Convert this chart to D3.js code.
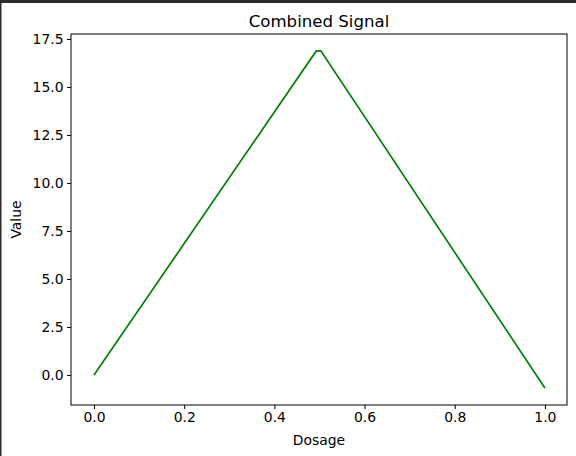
<!DOCTYPE html><html><head><script src="https://cdn.jsdelivr.net/npm/d3@7"></script>
<style>body{margin:0;background:#fff}text{font-family:"DejaVu Sans";}</style></head><body><svg width="576" height="456"></svg><script>
const xs=[0,0.493,0.503,1];
const ys=[0,16.88,16.88,-0.68];
const xTicks=[0,0.2,0.4,0.6,0.8,1.0];
const yTicks=[0,2.5,5,7.5,10,12.5,15,17.5];
const svg=d3.select("svg");
svg.append("rect").attr("width",576).attr("height",3).attr("fill","#2b2b2b");
svg.append("rect").attr("width",1.5).attr("height",456).attr("fill","#2b2b2b");
const L=71,R=567,T=34,B=405;
const x=d3.scaleLinear().domain([-0.051,1.049]).range([L,R]);
const y=d3.scaleLinear().domain([-1.5625,17.76]).range([B,T]);
svg.append("g").attr("transform",`translate(0,${B})`).call(d3.axisBottom(x).tickValues(xTicks).tickFormat(d3.format(".1f")).tickSize(4).tickPadding(3.5)).call(g=>g.select(".domain").remove());
svg.append("g").attr("transform",`translate(${L},0)`).call(d3.axisLeft(y).tickValues(yTicks).tickFormat(d3.format(".1f")).tickSize(4).tickPadding(3.5)).call(g=>g.select(".domain").remove());
svg.selectAll(".tick text").attr("font-size",13.9).attr("fill","#000").attr("font-family","DejaVu Sans");
svg.selectAll(".tick line").attr("stroke","#000");
svg.append("path").datum(xs.map((d,i)=>[d,ys[i]])).attr("d",d3.line().x(d=>x(d[0])).y(d=>y(d[1]))).attr("fill","none").attr("stroke","green").attr("stroke-width",1.7);
svg.append("rect").attr("x",L).attr("y",T).attr("width",R-L).attr("height",B-T).attr("fill","none").attr("stroke","#000").attr("stroke-width",1);
svg.append("text").attr("x",(L+R)/2).attr("y",T-7).attr("text-anchor","middle").attr("font-size",16.6).text("Combined Signal");
svg.append("text").attr("x",(L+R)/2).attr("y",445).attr("text-anchor","middle").attr("font-size",13.9).text("Dosage");
svg.append("text").attr("transform",`translate(21,${(T+B)/2}) rotate(-90)`).attr("text-anchor","middle").attr("font-size",13.9).text("Value");
</script></body></html>
